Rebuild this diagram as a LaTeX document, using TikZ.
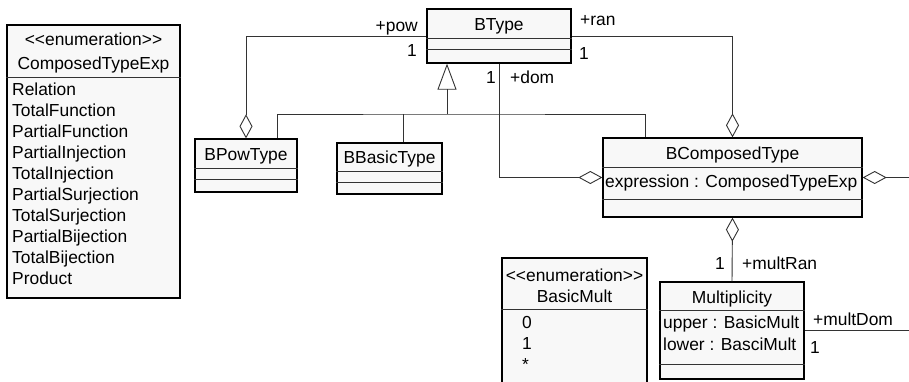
\documentclass[tikz,border=0pt]{standalone}
\usepackage{fontspec}
\setmainfont{Liberation Sans}
\usetikzlibrary{arrows.meta}
\definecolor{boxfill}{HTML}{F8F8F8}
\definecolor{linecol}{HTML}{333333}
\newcommand{\enumstereo}{<\kern0pt<enumeration>\kern0pt>}
\begin{document}
\begin{tikzpicture}[x=1pt,y=-1pt,
  umlbox/.style={draw=black, line width=1.3pt, fill=boxfill, inner sep=0pt},
  sepline/.style={draw=linecol, line width=0.9pt},
  conn/.style={draw=linecol, line width=0.9pt},
  txt/.style={inner sep=0pt, font=\fontsize{17.4}{21}\selectfont}
]
\useasboundingbox (0,0) rectangle (909,381);
\clip (0,0) rectangle (909,381);
\fill[white] (0,0) rectangle (909,381);

% boxes
\node[umlbox, minimum width=173pt, minimum height=273pt] (CTE) at (93.5,161.5) {};
\node[umlbox, minimum width=144pt, minimum height=54pt] (BType) at (499,36) {};
\node[umlbox, minimum width=102pt, minimum height=53pt] (BPowType) at (246,165.5) {};
\node[umlbox, minimum width=105pt, minimum height=51pt] (BBasicType) at (389.5,168.5) {};
\node[umlbox, minimum width=259pt, minimum height=79pt] (BComposedType) at (732.5,177.5) {};
\node[umlbox, minimum width=144pt, minimum height=97pt] (Multiplicity) at (732,330.5) {};
\node[umlbox, minimum width=145pt, minimum height=142pt] (BasicMult) at (574.5,329) {};

% compartment separators
\draw[sepline] (CTE.west |- 0,77) -- (CTE.east |- 0,77);
\draw[sepline] (BType.west |- 0,38) -- (BType.east |- 0,38);
\draw[sepline] (BType.west |- 0,49) -- (BType.east |- 0,49);
\draw[sepline] (BPowType.west |- 0,168) -- (BPowType.east |- 0,168);
\draw[sepline] (BPowType.west |- 0,179) -- (BPowType.east |- 0,179);
\draw[sepline] (BBasicType.west |- 0,171) -- (BBasicType.east |- 0,171);
\draw[sepline] (BBasicType.west |- 0,182) -- (BBasicType.east |- 0,182);
\draw[sepline] (BComposedType.west |- 0,167) -- (BComposedType.east |- 0,167);
\draw[sepline] (BComposedType.west |- 0,199) -- (BComposedType.east |- 0,199);
\draw[sepline] (Multiplicity.west |- 0,310) -- (Multiplicity.east |- 0,310);
\draw[sepline] (Multiplicity.west |- 0,364) -- (Multiplicity.east |- 0,364);
\draw[sepline] (BasicMult.west |- 0,309) -- (BasicMult.east |- 0,309);

% box texts
\node[txt, anchor=base] (t1) at (93.5,45) {\enumstereo};
\node[txt, anchor=base] (t2) at (93.5,69) {ComposedTypeExp};
\node[txt, anchor=base west] (c1) at (12,95) {Relation};
\node[txt, anchor=base west] (c2) at (12,116) {TotalFunction};
\node[txt, anchor=base west] (c3) at (12,137) {PartialFunction};
\node[txt, anchor=base west] (c4) at (12,158) {PartialInjection};
\node[txt, anchor=base west] (c5) at (12,179) {TotalInjection};
\node[txt, anchor=base west] (c6) at (12,200) {PartialSurjection};
\node[txt, anchor=base west] (c7) at (12,221) {TotalSurjection};
\node[txt, anchor=base west] (c8) at (12,242) {PartialBijection};
\node[txt, anchor=base west] (c9) at (12,263) {TotalBijection};
\node[txt, anchor=base west] (c10) at (12,284) {Product};

\node[txt, anchor=base] (t3) at (499,30) {BType};
\node[txt, anchor=base] (t4) at (246,160) {BPowType};
\node[txt, anchor=base] (t5) at (389.5,163) {BBasicType};
\node[txt, anchor=base] (t6) at (732.5,159) {BComposedType};
\node[txt, anchor=base west] (t7) at (605,187) {expression : ComposedTypeExp};
\node[txt, anchor=base] (t8) at (732,303) {Multiplicity};
\node[txt, anchor=base west] (t9) at (663,328) {upper : BasicMult};
\node[txt, anchor=base west] (t10) at (663,350) {lower : BasciMult};
\node[txt, anchor=base] (t11) at (574.5,281) {\enumstereo};
\node[txt, anchor=base] (t12) at (574.5,302) {BasicMult};
\node[txt, anchor=base west] (m1) at (522,328) {0};
\node[txt, anchor=base west] (m2) at (522,349) {1};
\node[txt, anchor=base west] (m3) at (522,370) {*};

% connectors
\coordinate (genj) at (447,114);
\coordinate (edgeA) at (910,177.5);
\coordinate (edgeB) at (910,330.5);
\draw[conn, -{Diamond[open, length=24pt, width=13pt]}] (BType.west) -| (BPowType.north);
\draw[conn, -{Diamond[open, length=24pt, width=13pt]}] (BType.east) -| (BComposedType.north);
\draw[conn, -{Diamond[open, length=24pt, width=13pt]}] (BType.south) |- (BComposedType.west);
\draw[conn, -{Triangle[open, length=26pt, width=19pt]}] (genj) -- (genj |- BType.south);
\draw[conn] ([xshift=31pt]BPowType.north) |- (genj) -| ([xshift=-87.5pt]BComposedType.north);
\draw[conn] ([xshift=13.5pt]BBasicType.north) -- ([xshift=13.5pt]BBasicType.north |- genj);
\draw[conn, {Diamond[open, length=24pt, width=13pt]}-] (BComposedType.east) -- (edgeA);
\draw[conn, {Diamond[open, length=24pt, width=13pt]}-] (BComposedType.south) -- (Multiplicity.north);
\draw[conn] (Multiplicity.east) -- (edgeB);

% role labels
\node[txt, anchor=base east] (lpow) at (418,31) {+pow};
\node[txt, anchor=base] (lpow1) at (412,56) {1};
\node[txt, anchor=base west] (lran) at (580,25) {+ran};
\node[txt, anchor=base west] (lran1) at (579,59) {1};
\node[txt, anchor=base] (ldom1) at (491,83) {1};
\node[txt, anchor=base west] (ldom) at (510,83) {+dom};
\node[txt, anchor=base] (lmr1) at (720,269) {1};
\node[txt, anchor=base west] (lmr) at (742,269) {+multRan};
\node[txt, anchor=base west] (lmd) at (813,325) {+multDom};
\node[txt, anchor=base] (lmd1) at (815,353) {1};
\end{tikzpicture}
\end{document}
